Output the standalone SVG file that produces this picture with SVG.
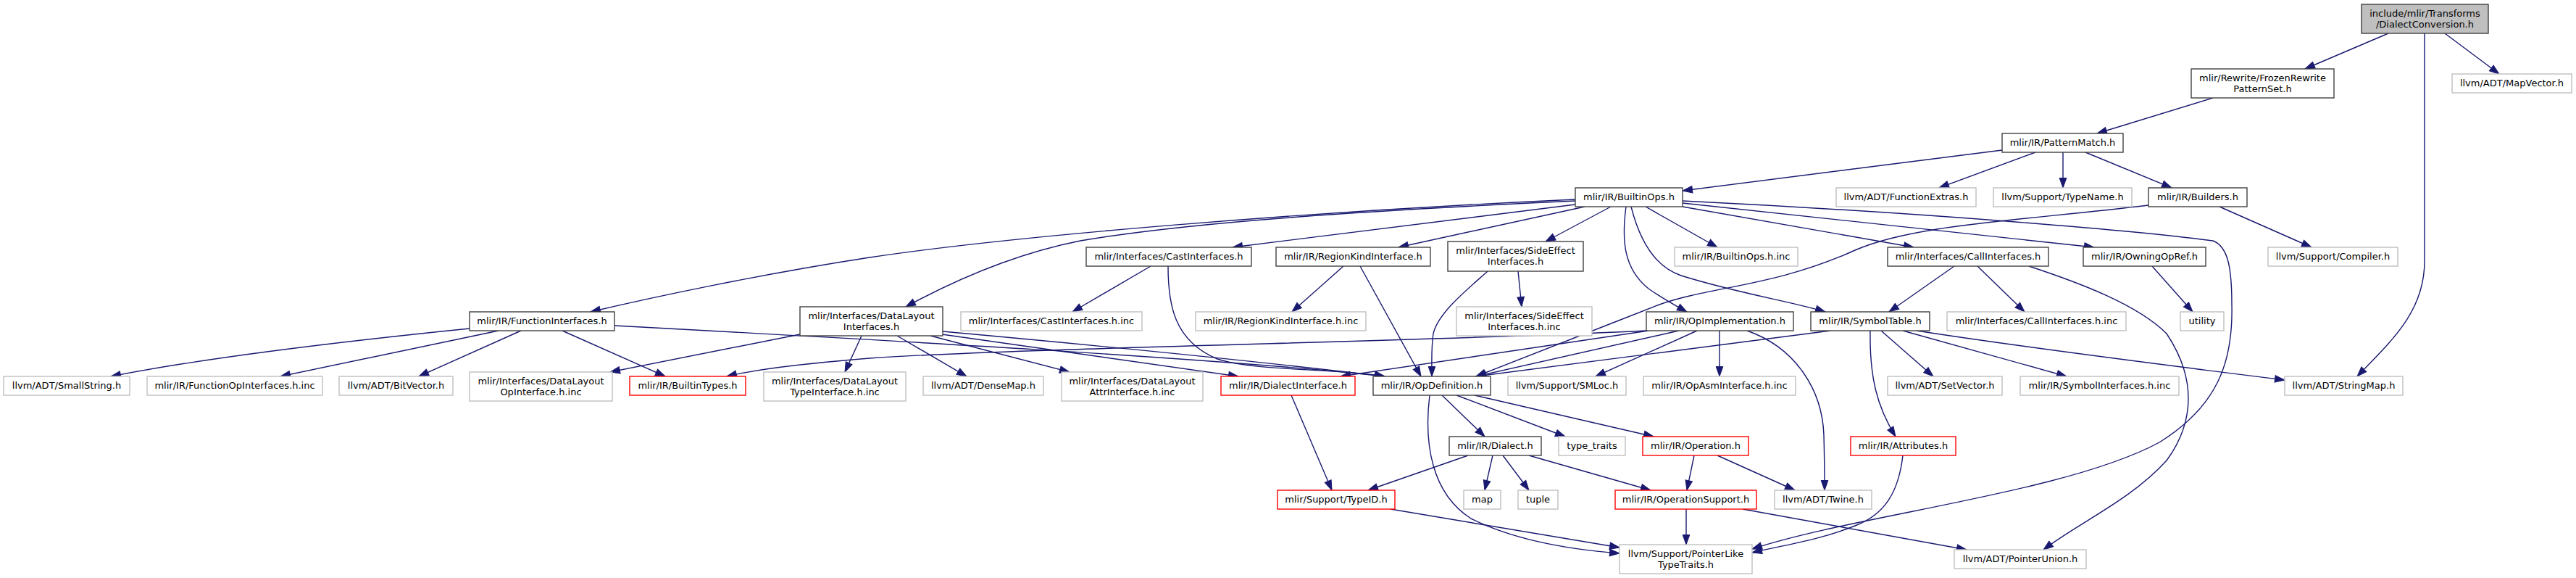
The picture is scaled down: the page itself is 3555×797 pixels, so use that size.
<svg xmlns="http://www.w3.org/2000/svg" width="3555" height="797" viewBox="0 0 3555 797">
<style>
.n rect{fill:#ffffff;stroke:#404040;stroke-width:1.4}
.g rect{stroke:#bfbfbf}
.r rect{stroke:#ff0000}
text{font-family:"DejaVu Sans",sans-serif;font-size:13px;fill:#000000;text-anchor:middle}
#edges path{fill:none;stroke:#191970;stroke-width:1.4;marker-end:url(#ah)}
</style>
<defs>
<marker id="ah" markerUnits="userSpaceOnUse" markerWidth="14" markerHeight="10" refX="13.5" refY="5" orient="auto" viewBox="0 0 14 10" overflow="visible">
<path d="M0,0.2 L13.5,5 L0,9.8 z" fill="#191970" stroke="#191970" stroke-width="1"/>
</marker>
</defs>
<rect x="0" y="0" width="3555" height="797" fill="#ffffff"/>
<g id="edges">
<path d="M3296,46 L3181,95"/>
<path d="M3374,46 L3449,102"/>
<path d="M3346,46 C3346,46 3346,300 3346,360 C3346,430 3300,470 3253,519"/>
<path d="M3054,135 L2894,184"/>
<path d="M2763,207 L2322,263"/>
<path d="M2809,210 L2676,259"/>
<path d="M2847,210 L2847,259"/>
<path d="M2878,210 L2997,259"/>
<path d="M3063,285 L3190,341"/>
<path d="M2965,283 C2780,305 2640,310 2560,345 C2450,395 2360,395 2290,420 C2200,455 2100,495 2037,519"/>
<path d="M2174,275 C1800,292 1400,325 1200,355 C1050,378 900,410 815,430"/>
<path d="M2174,277 C1900,290 1650,305 1491,332 C1400,350 1320,385 1250,423"/>
<path d="M2174,282 L1701,341"/>
<path d="M2187,285 L1930,341"/>
<path d="M2223,285 L2133,333"/>
<path d="M2271,285 L2370,341"/>
<path d="M2244,285 C2238,330 2240,370 2275,398 C2295,412 2310,420 2328,430"/>
<path d="M2251,285 C2265,340 2290,370 2320,380 C2400,405 2470,415 2519,430"/>
<path d="M2322,285 L2641,341"/>
<path d="M2322,280 L2890,341"/>
<path d="M2322,277 C2650,293 2950,318 3054,332 C3075,340 3080,370 3080,420 C3082,500 3060,560 2980,610 C2850,680 2560,710 2418,757"/>
<path d="M1588,367 L1480,430"/>
<path d="M1612,367 C1612,420 1620,470 1680,495 C1730,512 1850,508 1911,519"/>
<path d="M1854,367 L1783,430"/>
<path d="M1877,367 L1961,519"/>
<path d="M2095,374 L2100,423"/>
<path d="M2053,374 C2030,395 1985,430 1978,460 C1975,480 1976,500 1976,519"/>
<path d="M2697,367 L2607,430"/>
<path d="M2729,367 L2794,430"/>
<path d="M2800,367 C2870,390 2950,420 2990,460 C3030,520 3030,580 2990,635 C2940,690 2870,720 2820,758"/>
<path d="M2970,367 L3026,430"/>
<path d="M648,453 C500,468 300,490 153,519"/>
<path d="M688,456 L387,519"/>
<path d="M719,456 L578,519"/>
<path d="M776,456 L918,519"/>
<path d="M848,449 C1200,468 1700,495 1911,519"/>
<path d="M1104,461 L842,513"/>
<path d="M1189,463 L1166,513"/>
<path d="M1238,463 L1334,519"/>
<path d="M1284,463 L1476,513"/>
<path d="M1300,461 L1709,519"/>
<path d="M1301,457 C1500,475 1750,500 1911,519"/>
<path d="M1782,545 L1838,676"/>
<path d="M2317,456 L2037,519"/>
<path d="M2275,456 L1850,519"/>
<path d="M2342,456 L2202,519"/>
<path d="M2373,456 L2373,519"/>
<path d="M2411,456 C2480,480 2515,540 2517,600 C2518,640 2518,660 2518,676"/>
<path d="M2272,456 C2000,470 1400,480 1200,494 C1100,502 1040,510 1003,519"/>
<path d="M2526,456 L2037,519"/>
<path d="M2581,456 C2580,520 2590,560 2616,602"/>
<path d="M2596,456 L2668,519"/>
<path d="M2626,456 L2852,519"/>
<path d="M2645,456 C2800,480 3000,505 3153,524"/>
<path d="M1990,545 L2049,602"/>
<path d="M2010,545 L2160,602"/>
<path d="M2035,545 L2282,602"/>
<path d="M1973,545 C1965,610 1975,680 2030,715 C2090,745 2170,758 2235,763"/>
<path d="M2026,628 L1888,676"/>
<path d="M2060,628 L2049,676"/>
<path d="M2074,628 L2110,676"/>
<path d="M2110,628 L2278,676"/>
<path d="M2338,628 L2328,676"/>
<path d="M2370,628 L2477,676"/>
<path d="M1919,702 L2235,755"/>
<path d="M2327,702 L2327,751"/>
<path d="M2405,702 L2714,758"/>
<path d="M2626,628 C2620,680 2600,710 2560,725 C2510,745 2460,752 2418,762"/>
</g>
<g id="n_root" class="n"><rect x="3259" y="6" width="175" height="40" style="fill:#bfbfbf"/><text x="3346.5" y="23">include/mlir/Transforms</text><text x="3346.5" y="38">/DialectConversion.h</text></g>
<g id="n_frozen" class="n"><rect x="3024" y="95" width="197" height="40"/><text x="3122.5" y="112">mlir/Rewrite/FrozenRewrite</text><text x="3122.5" y="127">PatternSet.h</text></g>
<g id="n_mapvector" class="n g"><rect x="3384" y="102" width="165" height="26"/><text x="3466.5" y="119">llvm/ADT/MapVector.h</text></g>
<g id="n_patternmatch" class="n"><rect x="2763" y="184" width="167" height="26"/><text x="2846.5" y="201">mlir/IR/PatternMatch.h</text></g>
<g id="n_builtinops" class="n"><rect x="2174" y="259" width="148" height="26"/><text x="2248" y="276">mlir/IR/BuiltinOps.h</text></g>
<g id="n_functionextras" class="n g"><rect x="2534" y="259" width="193" height="26"/><text x="2630.5" y="276">llvm/ADT/FunctionExtras.h</text></g>
<g id="n_typename" class="n g"><rect x="2751" y="259" width="191" height="26"/><text x="2846.5" y="276">llvm/Support/TypeName.h</text></g>
<g id="n_builders" class="n"><rect x="2965" y="259" width="136" height="26"/><text x="3033" y="276">mlir/IR/Builders.h</text></g>
<g id="n_castif" class="n"><rect x="1499" y="341" width="228" height="26"/><text x="1613" y="358">mlir/Interfaces/CastInterfaces.h</text></g>
<g id="n_regionkind" class="n"><rect x="1761" y="341" width="213" height="26"/><text x="1867.5" y="358">mlir/IR/RegionKindInterface.h</text></g>
<g id="n_sideeffect" class="n"><rect x="1998" y="333" width="187" height="41"/><text x="2091.5" y="350">mlir/Interfaces/SideEffect</text><text x="2091.5" y="365">Interfaces.h</text></g>
<g id="n_builtinopsinc" class="n g"><rect x="2311" y="341" width="170" height="26"/><text x="2396" y="358">mlir/IR/BuiltinOps.h.inc</text></g>
<g id="n_callif" class="n"><rect x="2605" y="341" width="222" height="26"/><text x="2716" y="358">mlir/Interfaces/CallInterfaces.h</text></g>
<g id="n_owning" class="n"><rect x="2875" y="341" width="169" height="26"/><text x="2959.5" y="358">mlir/IR/OwningOpRef.h</text></g>
<g id="n_compiler" class="n g"><rect x="3130" y="341" width="179" height="26"/><text x="3219.5" y="358">llvm/Support/Compiler.h</text></g>
<g id="n_funcif" class="n"><rect x="648" y="430" width="200" height="26"/><text x="748" y="447">mlir/IR/FunctionInterfaces.h</text></g>
<g id="n_datalayout" class="n"><rect x="1104" y="423" width="197" height="40"/><text x="1202.5" y="440">mlir/Interfaces/DataLayout</text><text x="1202.5" y="455">Interfaces.h</text></g>
<g id="n_castinc" class="n g"><rect x="1326" y="430" width="250" height="26"/><text x="1451" y="447">mlir/Interfaces/CastInterfaces.h.inc</text></g>
<g id="n_regioninc" class="n g"><rect x="1650" y="430" width="235" height="26"/><text x="1767.5" y="447">mlir/IR/RegionKindInterface.h.inc</text></g>
<g id="n_sideeffectinc" class="n g"><rect x="2010" y="423" width="187" height="40"/><text x="2103.5" y="440">mlir/Interfaces/SideEffect</text><text x="2103.5" y="455">Interfaces.h.inc</text></g>
<g id="n_opimpl" class="n"><rect x="2272" y="430" width="203" height="26"/><text x="2373.5" y="447">mlir/IR/OpImplementation.h</text></g>
<g id="n_symtab" class="n"><rect x="2499" y="430" width="164" height="26"/><text x="2581" y="447">mlir/IR/SymbolTable.h</text></g>
<g id="n_callinc" class="n g"><rect x="2687" y="430" width="247" height="26"/><text x="2810.5" y="447">mlir/Interfaces/CallInterfaces.h.inc</text></g>
<g id="n_utility" class="n g"><rect x="3009" y="430" width="60" height="26"/><text x="3039" y="447">utility</text></g>
<g id="n_smallstring" class="n g"><rect x="5" y="519" width="174" height="26"/><text x="92" y="536">llvm/ADT/SmallString.h</text></g>
<g id="n_funcopinc" class="n g"><rect x="203" y="519" width="242" height="26"/><text x="324" y="536">mlir/IR/FunctionOpInterfaces.h.inc</text></g>
<g id="n_bitvector" class="n g"><rect x="468" y="519" width="157" height="26"/><text x="546.5" y="536">llvm/ADT/BitVector.h</text></g>
<g id="n_dlopinc" class="n g"><rect x="648" y="513" width="197" height="40"/><text x="746.5" y="530">mlir/Interfaces/DataLayout</text><text x="746.5" y="545">OpInterface.h.inc</text></g>
<g id="n_builtintypes" class="n r"><rect x="869" y="519" width="160" height="26"/><text x="949" y="536">mlir/IR/BuiltinTypes.h</text></g>
<g id="n_dltypeinc" class="n g"><rect x="1054" y="513" width="196" height="40"/><text x="1152" y="530">mlir/Interfaces/DataLayout</text><text x="1152" y="545">TypeInterface.h.inc</text></g>
<g id="n_densemap" class="n g"><rect x="1274" y="519" width="166" height="26"/><text x="1357" y="536">llvm/ADT/DenseMap.h</text></g>
<g id="n_dlattrinc" class="n g"><rect x="1465" y="513" width="195" height="40"/><text x="1562.5" y="530">mlir/Interfaces/DataLayout</text><text x="1562.5" y="545">AttrInterface.h.inc</text></g>
<g id="n_dialectif" class="n r"><rect x="1685" y="519" width="185" height="26"/><text x="1777.5" y="536">mlir/IR/DialectInterface.h</text></g>
<g id="n_opdef" class="n"><rect x="1895" y="519" width="162" height="26"/><text x="1976" y="536">mlir/IR/OpDefinition.h</text></g>
<g id="n_smloc" class="n g"><rect x="2081" y="519" width="163" height="26"/><text x="2162.5" y="536">llvm/Support/SMLoc.h</text></g>
<g id="n_opasminc" class="n g"><rect x="2268" y="519" width="210" height="26"/><text x="2373" y="536">mlir/IR/OpAsmInterface.h.inc</text></g>
<g id="n_setvector" class="n g"><rect x="2605" y="519" width="158" height="26"/><text x="2684" y="536">llvm/ADT/SetVector.h</text></g>
<g id="n_syminc" class="n g"><rect x="2788" y="519" width="219" height="26"/><text x="2897.5" y="536">mlir/IR/SymbolInterfaces.h.inc</text></g>
<g id="n_stringmap" class="n g"><rect x="3153" y="519" width="163" height="26"/><text x="3234.5" y="536">llvm/ADT/StringMap.h</text></g>
<g id="n_dialect" class="n"><rect x="2000" y="602" width="127" height="26"/><text x="2063.5" y="619">mlir/IR/Dialect.h</text></g>
<g id="n_typetraits" class="n g"><rect x="2151" y="602" width="92" height="26"/><text x="2197" y="619">type_traits</text></g>
<g id="n_operation" class="n r"><rect x="2267" y="602" width="146" height="26"/><text x="2340" y="619">mlir/IR/Operation.h</text></g>
<g id="n_attributes" class="n r"><rect x="2554" y="602" width="145" height="26"/><text x="2626.5" y="619">mlir/IR/Attributes.h</text></g>
<g id="n_typeid" class="n r"><rect x="1763" y="676" width="162" height="26"/><text x="1844" y="693">mlir/Support/TypeID.h</text></g>
<g id="n_map" class="n g"><rect x="2020" y="676" width="51" height="26"/><text x="2045.5" y="693">map</text></g>
<g id="n_tuple" class="n g"><rect x="2095" y="676" width="55" height="26"/><text x="2122.5" y="693">tuple</text></g>
<g id="n_opsupport" class="n r"><rect x="2229" y="676" width="195" height="26"/><text x="2326.5" y="693">mlir/IR/OperationSupport.h</text></g>
<g id="n_twine" class="n g"><rect x="2449" y="676" width="134" height="26"/><text x="2516" y="693">llvm/ADT/Twine.h</text></g>
<g id="n_pointerlike" class="n g"><rect x="2235" y="751" width="183" height="40"/><text x="2326.5" y="768">llvm/Support/PointerLike</text><text x="2326.5" y="783">TypeTraits.h</text></g>
<g id="n_pointerunion" class="n g"><rect x="2697" y="758" width="182" height="26"/><text x="2788" y="775">llvm/ADT/PointerUnion.h</text></g>
</svg>
